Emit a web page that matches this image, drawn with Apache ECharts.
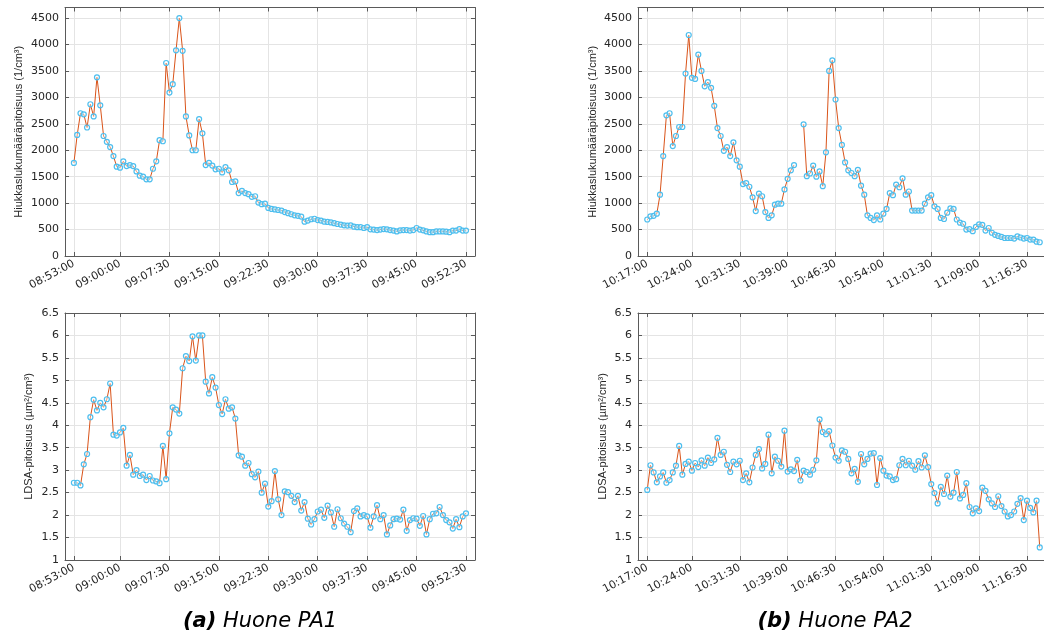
<!DOCTYPE html>
<html>
<head>
<meta charset="utf-8">
<script src="https://cdn.jsdelivr.net/npm/echarts@6/dist/echarts.min.js"></script>
<style>
  html, body { margin: 0; padding: 0; background: #fff; }
  #main { width: 1044px; height: 644px; }
</style>
</head>
<body>
<div id="main"></div>
<script>
// näytteet 30 s välein
const stepSec = 30;
const startA = '08:53:00';
const startB = '10:17:00';

const ticksA = ['08:53:00', '09:00:00', '09:07:30', '09:15:00', '09:22:30', '09:30:00', '09:37:30', '09:45:00', '09:52:30'];
const ticksB = ['10:17:00', '10:24:00', '10:31:30', '10:39:00', '10:46:30', '10:54:00', '11:01:30', '11:09:00', '11:16:30'];

// Huone PA1, hiukkaslukumääräpitoisuus (1/cm3)
const pnA = [1760, 2290, 2700, 2680, 2430, 2870, 2640, 3380, 2850, 2270, 2160, 2060, 1890, 1690, 1670, 1790, 1700, 1720, 1700, 1600,
  1520, 1500, 1450, 1450, 1650, 1790, 2190, 2170, 3650, 3090, 3250, 3890, 4500, 3880, 2640, 2280, 2000, 2000, 2590, 2320,
  1720, 1760, 1710, 1640, 1650, 1580, 1680, 1620, 1400, 1410, 1190, 1230, 1190, 1170, 1120, 1130, 1010, 980, 990, 910,
  890, 880, 870, 860, 830, 810, 790, 770, 760, 745, 650, 670, 695, 705, 680, 670, 650, 645, 635, 620,
  605, 595, 580, 575, 580, 555, 545, 545, 530, 545, 505, 500, 490, 500, 510, 505, 490, 480, 465, 485,
  490, 490, 480, 490, 530, 500, 485, 465, 450, 450, 465, 465, 465, 460, 450, 480, 480, 510, 480, 480];

// Huone PA1, LDSA (um2/cm3)
const ldsaA = [2.72, 2.72, 2.66, 3.13, 3.36, 4.18, 4.57, 4.33, 4.50, 4.40, 4.58, 4.93, 3.79, 3.77, 3.84, 3.94, 3.10, 3.34, 2.90, 3.00,
  2.87, 2.90, 2.78, 2.87, 2.77, 2.75, 2.71, 3.54, 2.80, 3.82, 4.40, 4.35, 4.26, 5.27, 5.54, 5.43, 5.98, 5.44, 6.00, 6.00,
  4.97, 4.71, 5.07, 4.84, 4.45, 4.25, 4.58, 4.37, 4.40, 4.15, 3.33, 3.30, 3.10, 3.16, 2.91, 2.84, 2.97, 2.50, 2.70, 2.19,
  2.31, 2.98, 2.35, 2.00, 2.53, 2.51, 2.43, 2.29, 2.43, 2.10, 2.29, 1.92, 1.79, 1.91, 2.08, 2.12, 1.94, 2.21, 2.06, 1.74,
  2.13, 1.93, 1.81, 1.74, 1.62, 2.09, 2.15, 1.97, 2.00, 1.97, 1.72, 1.97, 2.22, 1.91, 2.00, 1.57, 1.77, 1.91, 1.92, 1.90,
  2.12, 1.65, 1.89, 1.93, 1.92, 1.76, 1.98, 1.57, 1.91, 2.03, 2.04, 2.18, 2.00, 1.89, 1.84, 1.70, 1.91, 1.73, 1.97, 2.04];

// Huone PA2, hiukkaslukumääräpitoisuus (1/cm3), kaksi puuttuvaa näytettä
const pnB = [690, 750, 760, 800, 1160, 1890, 2660, 2700, 2080, 2270, 2440, 2440, 3450, 4180, 3370, 3350, 3810, 3500, 3210, 3290,
  3180, 2840, 2420, 2270, 1990, 2060, 1890, 2150, 1810, 1690, 1360, 1380, 1310, 1110, 850, 1180, 1130, 830, 720, 770,
  970, 990, 990, 1260, 1460, 1620, 1720, null, null, 2490, 1510, 1560, 1710, 1500, 1600, 1320, 1960, 3500, 3700, 2960,
  2420, 2100, 1770, 1620, 1570, 1510, 1630, 1330, 1160, 770, 720, 680, 770, 690, 800, 890, 1190, 1150, 1350, 1300,
  1470, 1160, 1220, 860, 860, 860, 860, 990, 1110, 1150, 940, 890, 720, 700, 820, 900, 890, 690, 630, 610,
  500, 510, 470, 550, 600, 590, 480, 530, 440, 400, 380, 360, 340, 340, 340, 330, 370, 350, 330, 340,
  310, 310, 270, 260];

// Huone PA2, LDSA (um2/cm3)
const ldsaB = [2.56, 3.11, 2.95, 2.73, 2.86, 2.95, 2.72, 2.78, 2.95, 3.10, 3.54, 2.90, 3.14, 3.19, 2.99, 3.16, 3.07, 3.22, 3.10, 3.28,
  3.16, 3.24, 3.72, 3.34, 3.41, 3.12, 2.96, 3.19, 3.13, 3.21, 2.78, 2.93, 2.73, 3.06, 3.34, 3.47, 3.04, 3.14, 3.79, 2.93,
  3.30, 3.21, 3.08, 3.88, 2.97, 3.02, 2.98, 3.23, 2.77, 2.99, 2.96, 2.90, 3.01, 3.22, 4.13, 3.85, 3.80, 3.87, 3.55, 3.28,
  3.21, 3.44, 3.41, 3.25, 2.93, 3.03, 2.74, 3.36, 3.13, 3.25, 3.37, 3.38, 2.67, 3.27, 2.99, 2.88, 2.86, 2.78, 2.80, 3.11,
  3.25, 3.11, 3.21, 3.10, 3.01, 3.20, 3.06, 3.33, 3.07, 2.69, 2.49, 2.26, 2.63, 2.47, 2.88, 2.41, 2.50, 2.96, 2.37, 2.45,
  2.71, 2.18, 2.04, 2.15, 2.09, 2.61, 2.54, 2.35, 2.26, 2.18, 2.42, 2.20, 2.08, 1.97, 2.00, 2.08, 2.25, 2.38, 1.89, 2.32,
  2.16, 2.06, 2.32, 1.28];

const toSec = s => { const p = s.split(':').map(Number); return p[0] * 3600 + p[1] * 60 + p[2]; };
const pad = n => (n < 10 ? '0' : '') + n;
const fmt = v => pad(Math.floor(v / 3600)) + ':' + pad(Math.floor((v % 3600) / 60)) + ':' + pad(Math.round(v % 60));

const pairs = (start, vals) => vals.map((v, i) => [toSec(start) + i * stepSec, v == null ? '-' : v]);

const textCol = '#262626';
const boxCol = '#5a5a5a';
const gridCol = '#e4e4e4';
const font = 'DejaVu Sans';

// akselirajat: pieni marginaali ensimmäisen ja viimeisen näytteen ympärillä
const xminA = toSec(startA) - 81, xmaxA = toSec(startA) + (pnA.length - 1) * stepSec + 82;
const xminB = toSec(startB) - 87, xmaxB = toSec(startB) + (pnB.length - 1) * stepSec + 87;

const grids = [
  { left: 65, top: 7.5, width: 410, height: 248.5 },
  { left: 65, top: 313, width: 410, height: 247 },
  { left: 638, top: 7.5, width: 411, height: 248.5 },
  { left: 638, top: 313, width: 411, height: 247 }
].map(g => Object.assign(g, { outerBoundsMode: 'none', containLabel: false }));

function makeX(gi, ticks, min, max) {
  const vals = ticks.map(toSec);
  return [{
    gridIndex: gi, type: 'value', min: min, max: max,
    axisLine: { show: true, onZero: false, lineStyle: { color: boxCol, width: 1 } },
    axisTick: { show: true, inside: true, length: 4, customValues: vals, lineStyle: { color: boxCol } },
    axisLabel: {
      customValues: vals, formatter: fmt, rotate: 28, margin: 7,
      fontFamily: font, fontSize: 11, color: textCol, hideOverlap: false
    },
    splitLine: { show: true, lineStyle: { color: gridCol, width: 1 } }
  }, {
    gridIndex: gi, type: 'value', position: 'top', min: min, max: max,
    axisLine: { show: true, onZero: false, lineStyle: { color: boxCol, width: 1 } },
    axisTick: { show: true, inside: true, length: 4, customValues: vals, lineStyle: { color: boxCol } },
    axisLabel: { show: false },
    splitLine: { show: false }
  }];
}

function makeY(gi, min, max, interval, name, gap, hideMax) {
  return [{
    gridIndex: gi, type: 'value', min: min, max: max, interval: interval,
    axisLine: { show: true, onZero: false, lineStyle: { color: boxCol, width: 1 } },
    axisTick: { show: true, inside: true, length: 4, lineStyle: { color: boxCol } },
    axisLabel: {
      fontFamily: font, fontSize: 11, color: textCol, margin: 6, showMaxLabel: !hideMax,
      formatter: v => String(v)
    },
    splitLine: { show: true, lineStyle: { color: gridCol, width: 1 } },
    name: name, nameLocation: 'middle', nameGap: gap,
    nameTextStyle: { fontFamily: 'Liberation Sans', fontSize: 11, color: textCol }
  }, {
    gridIndex: gi, type: 'value', position: 'right', min: min, max: max, interval: interval,
    axisLine: { show: true, onZero: false, lineStyle: { color: boxCol, width: 1 } },
    axisTick: { show: true, inside: true, length: 4, lineStyle: { color: boxCol } },
    axisLabel: { show: false },
    splitLine: { show: false }
  }];
}

const pnName = 'Hiukkaslukumääräpitoisuus (1/cm³)';
const ldsaName = 'LDSA-pitoisuus (µm²/cm³)';

const xAxis = [].concat(
  makeX(0, ticksA, xminA, xmaxA), makeX(1, ticksA, xminA, xmaxA),
  makeX(2, ticksB, xminB, xmaxB), makeX(3, ticksB, xminB, xmaxB));
const yAxis = [].concat(
  makeY(0, 0, 4700, 500, pnName, 41, true), makeY(1, 1, 6.5, 0.5, ldsaName, 31, false),
  makeY(2, 0, 4700, 500, pnName, 40, true), makeY(3, 1, 6.5, 0.5, ldsaName, 30, false));

function line(gi, data) {
  return {
    type: 'line', xAxisIndex: gi * 2, yAxisIndex: gi * 2, data: data,
    symbol: 'circle', symbolSize: 5, showAllSymbol: true, connectNulls: false,
    lineStyle: { color: '#D95319', width: 1 },
    itemStyle: { color: 'rgba(255,255,255,0.35)', borderColor: '#4DBEEE', borderWidth: 1.2 },
    silent: true
  };
}

const caption = (x, label, room) => ({
  type: 'text', x: x, y: 622,
  style: {
    text: '{b|' + label + '} ' + room,
    fontFamily: font, fontSize: 21, fontStyle: 'italic', fill: '#000',
    align: 'center', verticalAlign: 'middle',
    rich: { b: { fontFamily: font, fontSize: 21, fontStyle: 'italic', fontWeight: 'bold', fill: '#000' } }
  }
});

const myChart = echarts.init(document.getElementById('main'), null, { renderer: 'canvas' });
myChart.setOption({
  animation: false,
  grid: grids,
  xAxis: xAxis,
  yAxis: yAxis,
  series: [
    line(0, pairs(startA, pnA)),
    line(1, pairs(startA, ldsaA)),
    line(2, pairs(startB, pnB)),
    line(3, pairs(startB, ldsaB))
  ],
  graphic: [caption(260, '(a)', 'Huone PA1'), caption(835, '(b)', 'Huone PA2')]
});
</script>
</body>
</html>
